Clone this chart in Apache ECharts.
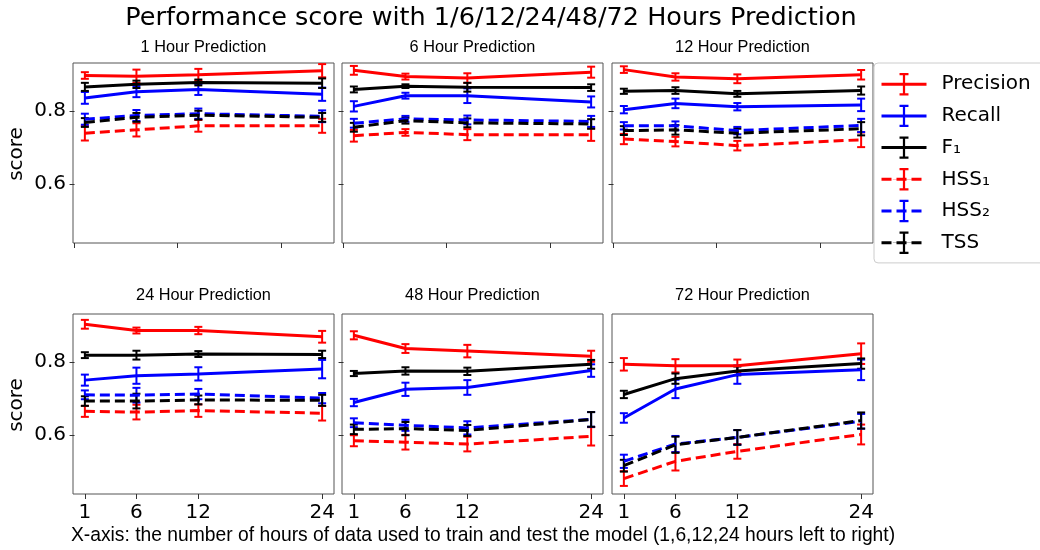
<!DOCTYPE html>
<html>
<head>
<meta charset="utf-8">
<script src="https://cdn.jsdelivr.net/npm/echarts@6/dist/echarts.min.js"></script>
<style>
  html, body { margin: 0; padding: 0; background: #fff; }
  #main { width: 1040px; height: 550px; }
</style>
</head>
<body>
<div id="main"></div>
<script>
// x values (hours of data used)
const hours = [1, 6, 12, 24];
const panelTitles = ["1 Hour Prediction", "6 Hour Prediction", "12 Hour Prediction",
  "24 Hour Prediction", "48 Hour Prediction", "72 Hour Prediction"];
const yTicks = [0.6, 0.8];
const topXTicks = [0, 10, 20];

// one row per panel (1h, 6h, 12h, 24h, 48h, 72h), one value per hour
const precision = [
  [0.896, 0.894, 0.898, 0.909],
  [0.910, 0.893, 0.889, 0.905],
  [0.912, 0.892, 0.887, 0.898],
  [0.902, 0.885, 0.885, 0.868],
  [0.872, 0.836, 0.829, 0.815],
  [0.793, 0.789, 0.789, 0.822],
];
const precisionErr = [
  [0.009, 0.018, 0.016, 0.018],
  [0.012, 0.008, 0.013, 0.015],
  [0.009, 0.010, 0.012, 0.013],
  [0.012, 0.008, 0.010, 0.016],
  [0.011, 0.012, 0.017, 0.015],
  [0.017, 0.018, 0.017, 0.028],
];
const recall = [
  [0.835, 0.852, 0.858, 0.845],
  [0.812, 0.841, 0.841, 0.824],
  [0.803, 0.820, 0.811, 0.816],
  [0.750, 0.762, 0.767, 0.780],
  [0.689, 0.725, 0.730, 0.776],
  [0.647, 0.726, 0.765, 0.778],
];
const recallErr = [
  [0.016, 0.015, 0.015, 0.018],
  [0.014, 0.008, 0.020, 0.015],
  [0.010, 0.013, 0.010, 0.017],
  [0.015, 0.022, 0.018, 0.025],
  [0.010, 0.018, 0.020, 0.017],
  [0.013, 0.025, 0.025, 0.028],
];
const f1 = [
  [0.865, 0.872, 0.877, 0.875],
  [0.858, 0.867, 0.864, 0.863],
  [0.853, 0.855, 0.846, 0.855],
  [0.818, 0.818, 0.821, 0.820],
  [0.768, 0.775, 0.774, 0.793],
  [0.711, 0.754, 0.775, 0.795],
];
const f1Err = [
  [0.011, 0.010, 0.008, 0.013],
  [0.008, 0.005, 0.012, 0.009],
  [0.007, 0.009, 0.008, 0.011],
  [0.008, 0.012, 0.008, 0.010],
  [0.007, 0.010, 0.010, 0.012],
  [0.010, 0.014, 0.012, 0.014],
];
const hss1 = [
  [0.739, 0.748, 0.759, 0.759],
  [0.732, 0.741, 0.735, 0.735],
  [0.723, 0.716, 0.705, 0.721],
  [0.665, 0.663, 0.667, 0.660],
  [0.585, 0.581, 0.576, 0.597],
  [0.482, 0.529, 0.556, 0.602],
];
const hss1Err = [
  [0.020, 0.018, 0.016, 0.019],
  [0.016, 0.009, 0.015, 0.017],
  [0.014, 0.013, 0.013, 0.020],
  [0.015, 0.020, 0.017, 0.020],
  [0.015, 0.020, 0.020, 0.025],
  [0.020, 0.025, 0.020, 0.027],
];
const hss2 = [
  [0.777, 0.787, 0.792, 0.785],
  [0.766, 0.778, 0.775, 0.771],
  [0.759, 0.759, 0.746, 0.760],
  [0.710, 0.709, 0.712, 0.701],
  [0.634, 0.627, 0.620, 0.643],
  [0.529, 0.576, 0.594, 0.638],
];
const hss2Err = [
  [0.015, 0.015, 0.014, 0.016],
  [0.012, 0.008, 0.012, 0.015],
  [0.010, 0.012, 0.010, 0.018],
  [0.012, 0.020, 0.014, 0.014],
  [0.012, 0.015, 0.018, 0.020],
  [0.018, 0.022, 0.020, 0.020],
];
const tss = [
  [0.768, 0.782, 0.788, 0.782],
  [0.755, 0.773, 0.767, 0.764],
  [0.746, 0.748, 0.739, 0.751],
  [0.693, 0.693, 0.696, 0.695],
  [0.616, 0.618, 0.613, 0.643],
  [0.517, 0.574, 0.594, 0.640],
];
const tssErr = [
  [0.012, 0.012, 0.012, 0.012],
  [0.012, 0.008, 0.012, 0.013],
  [0.012, 0.013, 0.012, 0.018],
  [0.013, 0.020, 0.012, 0.015],
  [0.013, 0.018, 0.015, 0.020],
  [0.016, 0.022, 0.020, 0.022],
];

const metrics = [
  { name: "Precision", color: "#ff0000", dash: false, vals: precision, errs: precisionErr },
  { name: "Recall", color: "#0000ff", dash: false, vals: recall, errs: recallErr },
  { name: "F\u2081", color: "#000000", dash: false, vals: f1, errs: f1Err },
  { name: "HSS\u2081", color: "#ff0000", dash: true, vals: hss1, errs: hss1Err },
  { name: "HSS\u2082", color: "#0000ff", dash: true, vals: hss2, errs: hss2Err },
  { name: "TSS", color: "#000000", dash: true, vals: tss, errs: tssErr },
];

const FONT = "DejaVu Sans";
const FONT2 = "Liberation Sans";
// panel boxes in px
const colLeft = [73, 342, 612];
const rowTop = [63, 314];
const panelW = 261, panelH = 180;
// error bar legend glyph (I-beam); the thin bar along the middle keeps the box square
const errGlyph = "path://M6,0 H14 V2 H11 V18 H14 V20 H6 V18 H9 V2 H6 Z M0,9.9 H20 V10.1 H0 Z";

// draws the vertical error bar with caps
const renderErrorBar = (params, api) => {
  const x = api.value(0);
  const lo = api.coord([x, api.value(1)]);
  const hi = api.coord([x, api.value(2)]);
  const cap = 4;
  const style = { stroke: api.visual("color"), lineWidth: 2 };
  return {
    type: "group",
    children: [
      { type: "line", shape: { x1: lo[0], y1: lo[1], x2: hi[0], y2: hi[1] }, style: style },
      { type: "line", shape: { x1: lo[0] - cap, y1: lo[1], x2: lo[0] + cap, y2: lo[1] }, style: style },
      { type: "line", shape: { x1: hi[0] - cap, y1: hi[1], x2: hi[0] + cap, y2: hi[1] }, style: style },
    ],
  };
};

let grids = [], xAxes = [], yAxes = [], series = [], graphics = [];

for (let p = 0; p < 6; p++) {
  const row = Math.floor(p / 3), col = p % 3;
  const left = colLeft[col], top = rowTop[row];
  grids.push({
    left: left, top: top, width: panelW, height: panelH,
    show: true, borderColor: "#555", borderWidth: 1,
  });
  xAxes.push({
    type: "value", gridIndex: p, min: -0.15, max: 25.15,
    axisLine: { show: false },
    splitLine: { show: false },
    axisTick: {
      show: true, length: 5, lineStyle: { color: "#333" },
      customValues: row === 0 ? topXTicks : hours,
    },
    axisLabel: {
      show: row === 1, customValues: hours, margin: 9,
      color: "#000", fontSize: 20, fontFamily: FONT,
    },
  });
  yAxes.push({
    type: "value", gridIndex: p, min: 0.44, max: 0.93,
    axisLine: { show: false },
    splitLine: { show: false },
    axisTick: { show: true, length: 5, lineStyle: { color: "#333" }, customValues: yTicks },
    axisLabel: {
      show: col === 0, customValues: yTicks, margin: 7,
      color: "#000", fontSize: 20, fontFamily: FONT,
      formatter: (v) => v.toFixed(1),
    },
  });

  for (let m of metrics) {
    const lineType = m.dash ? [10, 5] : "solid";
    series.push({
      name: m.name,
      type: "line",
      xAxisIndex: p, yAxisIndex: p,
      symbol: errGlyph,
      showSymbol: false,
      silent: true,
      itemStyle: { color: m.color },
      lineStyle: { color: m.color, width: 3, type: lineType },
      data: hours.map((h, i) => [h, m.vals[p][i]]),
    });
    series.push({
      name: m.name + " err",
      type: "custom",
      xAxisIndex: p, yAxisIndex: p,
      silent: true,
      itemStyle: { color: m.color },
      renderItem: renderErrorBar,
      encode: { x: 0, y: [1, 2] },
      data: hours.map((h, i) => [h, m.vals[p][i] - m.errs[p][i], m.vals[p][i] + m.errs[p][i]]),
    });
  }

  // panel title
  graphics.push({
    type: "text", x: left + panelW / 2, y: row === 0 ? 48 : 296,
    style: { text: panelTitles[p], font: "16.3px " + FONT2, fill: "#000", align: "center", verticalAlign: "middle" },
  });
}

// y axis labels
for (let y of [154, 405]) {
  graphics.push({
    type: "text", x: 17, y: y, rotation: Math.PI / 2,
    style: { text: "score", font: "20px " + FONT, fill: "#000", align: "center", verticalAlign: "middle" },
  });
}
// x axis label
graphics.push({
  type: "text", x: 483, y: 536,
  style: {
    text: "X-axis: the number of hours of data used to train and test the model (1,6,12,24 hours left to right)",
    font: "19.3px " + FONT2, fill: "#000", align: "center", verticalAlign: "middle",
  },
});
// main title
graphics.push({
  type: "text", x: 491, y: 18,
  style: {
    text: "Performance score with 1/6/12/24/48/72 Hours Prediction",
    font: "25.5px " + FONT, fill: "#000", align: "center", verticalAlign: "middle",
  },
});

let chart = echarts.init(document.getElementById("main"));
let option = {
  animation: false,
  backgroundColor: "#fff",
  legend: {
    data: metrics.map((m) => m.name),
    orient: "vertical",
    left: 874, top: 63,
    padding: [10, 20, 9, 6],
    itemWidth: 45, itemHeight: 28, itemGap: 9.3,
    borderColor: "#ccc", borderWidth: 1, borderRadius: 4,
    backgroundColor: "#fff",
    selectedMode: false,
    symbolKeepAspect: true,
    itemStyle: { borderWidth: 0 },
    lineStyle: { width: 3 },
    textStyle: { fontSize: 20, fontFamily: FONT, color: "#000", padding: [0, 0, 0, 10] },
  },
  grid: grids,
  xAxis: xAxes,
  yAxis: yAxes,
  series: series,
  graphic: graphics,
};
chart.setOption(option);
</script>
</body>
</html>
